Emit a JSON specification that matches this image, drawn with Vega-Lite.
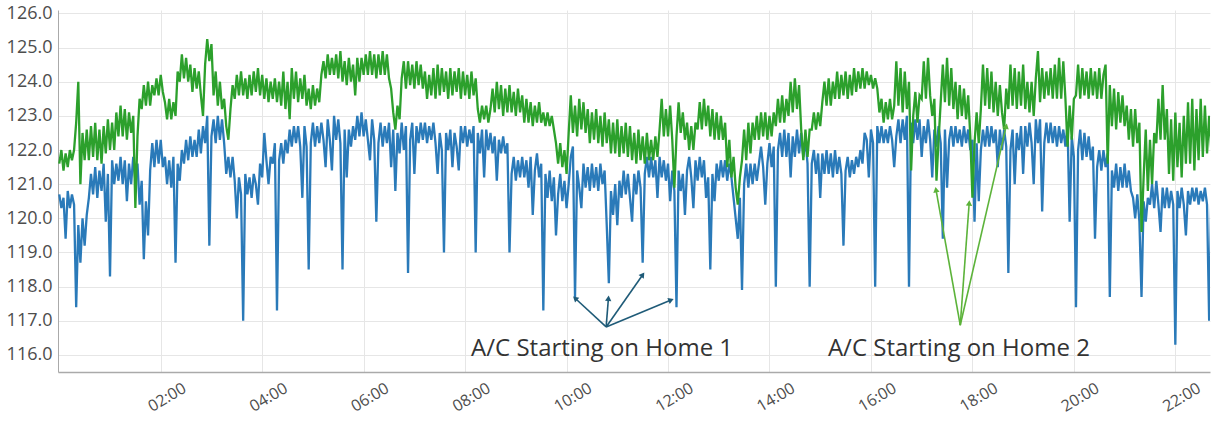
{
"$schema":"https://vega.github.io/schema/vega-lite/v6.json",
"width":1152,"height":362,
"autosize":{"type":"none"},
"padding":{"left":58,"top":10,"right":3,"bottom":49},
"background":"white",
"config":{"view":{"stroke":null},"font":"Open Sans"},
"datasets":{
"home1":[
{"m":0,"v":120.7},{"m":2.5,"v":120.3},{"m":5,"v":120.6},{"m":7.5,"v":119.4},{"m":10,"v":120.8},{"m":12.5,"v":120.3},{"m":15,"v":120.7},{"m":17.5,"v":120.4},{"m":20,"v":117.4},{"m":22.5,"v":119.8},{"m":25,"v":118.7},{"m":27.5,"v":120.0},{"m":30,"v":119.2},{"m":32.5,"v":120.1},{"m":35,"v":120.6},{"m":37.5,"v":121.3},{"m":40,"v":120.7},{"m":42.5,"v":121.5},{"m":45,"v":120.6},{"m":47.5,"v":121.4},{"m":50,"v":120.8},{"m":52.5,"v":121.6},{"m":55,"v":119.9},{"m":57.5,"v":121.3},{"m":60,"v":118.3},{"m":62.5,"v":121.7},{"m":65,"v":121.0},{"m":67.5,"v":121.6},{"m":70,"v":121.1},{"m":72.5,"v":121.8},{"m":75,"v":121.0},{"m":77.5,"v":121.7},{"m":80,"v":120.5},{"m":82.5,"v":121.6},{"m":85,"v":121.0},{"m":87.5,"v":121.8},{"m":90,"v":121.1},{"m":92.5,"v":121.6},{"m":95,"v":120.4},{"m":97.5,"v":121.1},{"m":100,"v":118.8},{"m":102.5,"v":120.5},{"m":105,"v":119.5},{"m":107.5,"v":121.4},{"m":110,"v":122.2},{"m":112.5,"v":121.5},{"m":115,"v":122.3},{"m":117.5,"v":121.6},{"m":120,"v":122.3},{"m":122.5,"v":121.5},{"m":125,"v":121.8},{"m":127.5,"v":121.0},{"m":130,"v":121.7},{"m":132.5,"v":120.9},{"m":135,"v":121.8},{"m":137.5,"v":118.7},{"m":140,"v":121.6},{"m":142.5,"v":121.1},{"m":145,"v":122.0},{"m":147.5,"v":121.6},{"m":150,"v":122.3},{"m":152.5,"v":121.7},{"m":155,"v":122.4},{"m":157.5,"v":121.8},{"m":160,"v":122.3},{"m":162.5,"v":121.8},{"m":165,"v":122.6},{"m":167.5,"v":121.9},{"m":170,"v":122.7},{"m":172.5,"v":122.2},{"m":175,"v":123.0},{"m":177.5,"v":119.2},{"m":180,"v":122.4},{"m":182.5,"v":122.9},{"m":185,"v":122.2},{"m":187.5,"v":123.0},{"m":190,"v":122.3},{"m":192.5,"v":122.9},{"m":195,"v":122.2},{"m":197.5,"v":121.3},{"m":200,"v":121.8},{"m":202.5,"v":121.2},{"m":205,"v":121.8},{"m":207.5,"v":121.1},{"m":210,"v":120.0},{"m":212.5,"v":121.2},{"m":215,"v":120.7},{"m":217.5,"v":117.0},{"m":220,"v":121.3},{"m":222.5,"v":120.7},{"m":225,"v":121.2},{"m":227.5,"v":120.6},{"m":230,"v":121.3},{"m":232.5,"v":121.0},{"m":235,"v":120.4},{"m":237.5,"v":121.6},{"m":240,"v":121.2},{"m":242.5,"v":122.5},{"m":245,"v":121.7},{"m":247.5,"v":121.0},{"m":250,"v":121.8},{"m":252.5,"v":121.6},{"m":255,"v":122.2},{"m":257.5,"v":117.3},{"m":260,"v":121.7},{"m":262.5,"v":122.2},{"m":265,"v":121.6},{"m":267.5,"v":122.3},{"m":270,"v":121.9},{"m":272.5,"v":122.6},{"m":275,"v":122.1},{"m":277.5,"v":122.7},{"m":280,"v":122.2},{"m":282.5,"v":122.7},{"m":285,"v":122.1},{"m":287.5,"v":120.6},{"m":290,"v":122.7},{"m":292.5,"v":122.1},{"m":295,"v":118.5},{"m":297.5,"v":122.2},{"m":300,"v":122.8},{"m":302.5,"v":122.1},{"m":305,"v":122.7},{"m":307.5,"v":122.2},{"m":310,"v":122.8},{"m":312.5,"v":122.3},{"m":315,"v":121.5},{"m":317.5,"v":122.9},{"m":320,"v":122.3},{"m":322.5,"v":121.4},{"m":325,"v":123.0},{"m":327.5,"v":122.3},{"m":330,"v":122.9},{"m":332.5,"v":122.2},{"m":335,"v":118.5},{"m":337.5,"v":122.6},{"m":340,"v":121.2},{"m":342.5,"v":122.6},{"m":345,"v":122.1},{"m":347.5,"v":122.7},{"m":350,"v":122.3},{"m":352.5,"v":123.0},{"m":355,"v":122.4},{"m":357.5,"v":123.1},{"m":360,"v":122.4},{"m":362.5,"v":122.9},{"m":365,"v":122.3},{"m":367.5,"v":121.7},{"m":370,"v":122.9},{"m":372.5,"v":122.3},{"m":375,"v":119.9},{"m":377.5,"v":122.2},{"m":380,"v":122.8},{"m":382.5,"v":122.1},{"m":385,"v":122.7},{"m":387.5,"v":122.2},{"m":390,"v":122.8},{"m":392.5,"v":121.5},{"m":395,"v":122.6},{"m":397.5,"v":120.8},{"m":400,"v":122.5},{"m":402.5,"v":121.9},{"m":405,"v":122.8},{"m":407.5,"v":122.0},{"m":410,"v":122.7},{"m":412.5,"v":118.4},{"m":415,"v":122.3},{"m":417.5,"v":122.8},{"m":420,"v":121.3},{"m":422.5,"v":122.7},{"m":425,"v":122.2},{"m":427.5,"v":122.8},{"m":430,"v":122.3},{"m":432.5,"v":122.8},{"m":435,"v":122.2},{"m":437.5,"v":122.7},{"m":440,"v":122.3},{"m":442.5,"v":122.8},{"m":445,"v":122.2},{"m":447.5,"v":121.3},{"m":450,"v":122.5},{"m":452.5,"v":122.0},{"m":455,"v":119.0},{"m":457.5,"v":122.5},{"m":460,"v":122.0},{"m":462.5,"v":122.6},{"m":465,"v":121.5},{"m":467.5,"v":122.5},{"m":470,"v":122.1},{"m":472.5,"v":121.4},{"m":475,"v":122.7},{"m":477.5,"v":122.2},{"m":480,"v":122.7},{"m":482.5,"v":122.1},{"m":485,"v":122.6},{"m":487.5,"v":122.2},{"m":490,"v":122.7},{"m":492.5,"v":119.0},{"m":495,"v":122.5},{"m":497.5,"v":121.9},{"m":500,"v":122.6},{"m":502.5,"v":121.2},{"m":505,"v":122.6},{"m":507.5,"v":122.0},{"m":510,"v":122.5},{"m":512.5,"v":121.9},{"m":515,"v":122.4},{"m":517.5,"v":121.1},{"m":520,"v":122.3},{"m":522.5,"v":121.9},{"m":525,"v":122.4},{"m":527.5,"v":121.9},{"m":530,"v":122.2},{"m":532.5,"v":119.0},{"m":535,"v":121.3},{"m":537.5,"v":121.8},{"m":540,"v":121.1},{"m":542.5,"v":121.7},{"m":545,"v":121.2},{"m":547.5,"v":121.8},{"m":550,"v":121.2},{"m":552.5,"v":121.7},{"m":555,"v":120.9},{"m":557.5,"v":121.8},{"m":560,"v":120.1},{"m":562.5,"v":121.4},{"m":565,"v":121.9},{"m":567.5,"v":121.2},{"m":570,"v":121.6},{"m":572.5,"v":117.3},{"m":575,"v":121.3},{"m":577.5,"v":120.6},{"m":580,"v":121.4},{"m":582.5,"v":120.5},{"m":585,"v":121.2},{"m":587.5,"v":119.5},{"m":590,"v":120.7},{"m":592.5,"v":121.3},{"m":595,"v":120.5},{"m":597.5,"v":121.1},{"m":600,"v":120.3},{"m":602.5,"v":121.0},{"m":605,"v":121.8},{"m":607.5,"v":122.1},{"m":610,"v":117.7},{"m":612.5,"v":121.4},{"m":615,"v":120.9},{"m":617.5,"v":120.3},{"m":620,"v":121.6},{"m":622.5,"v":120.9},{"m":625,"v":121.5},{"m":627.5,"v":120.8},{"m":630,"v":121.6},{"m":632.5,"v":120.9},{"m":635,"v":121.5},{"m":637.5,"v":120.8},{"m":640,"v":121.6},{"m":642.5,"v":121.0},{"m":645,"v":121.4},{"m":647.5,"v":119.8},{"m":650,"v":118.1},{"m":652.5,"v":120.8},{"m":655,"v":120.1},{"m":657.5,"v":121.0},{"m":660,"v":119.8},{"m":662.5,"v":121.1},{"m":665,"v":120.6},{"m":667.5,"v":121.4},{"m":670,"v":120.7},{"m":672.5,"v":121.3},{"m":675,"v":120.6},{"m":677.5,"v":119.9},{"m":680,"v":121.3},{"m":682.5,"v":120.7},{"m":685,"v":121.4},{"m":687.5,"v":120.9},{"m":690,"v":118.7},{"m":692.5,"v":121.3},{"m":695,"v":121.8},{"m":697.5,"v":121.2},{"m":700,"v":121.8},{"m":702.5,"v":121.2},{"m":705,"v":121.7},{"m":707.5,"v":120.6},{"m":710,"v":121.8},{"m":712.5,"v":121.2},{"m":715,"v":121.7},{"m":717.5,"v":121.1},{"m":720,"v":121.6},{"m":722.5,"v":120.5},{"m":725,"v":121.4},{"m":727.5,"v":120.8},{"m":730,"v":117.4},{"m":732.5,"v":121.4},{"m":735,"v":120.8},{"m":737.5,"v":121.3},{"m":740,"v":120.1},{"m":742.5,"v":121.4},{"m":745,"v":121.8},{"m":747.5,"v":121.2},{"m":750,"v":120.3},{"m":752.5,"v":121.7},{"m":755,"v":121.1},{"m":757.5,"v":121.8},{"m":760,"v":121.2},{"m":762.5,"v":121.7},{"m":765,"v":120.6},{"m":767.5,"v":121.2},{"m":770,"v":118.5},{"m":772.5,"v":121.3},{"m":775,"v":120.5},{"m":777.5,"v":121.6},{"m":780,"v":121.1},{"m":782.5,"v":121.7},{"m":785,"v":121.2},{"m":787.5,"v":121.7},{"m":790,"v":121.1},{"m":792.5,"v":121.6},{"m":795,"v":121.2},{"m":797.5,"v":120.6},{"m":800,"v":120.0},{"m":802.5,"v":119.4},{"m":805,"v":120.6},{"m":807.5,"v":117.9},{"m":810,"v":121.0},{"m":812.5,"v":121.6},{"m":815,"v":120.9},{"m":817.5,"v":121.6},{"m":820,"v":121.0},{"m":822.5,"v":121.6},{"m":825,"v":121.1},{"m":827.5,"v":121.6},{"m":830,"v":122.1},{"m":832.5,"v":121.5},{"m":835,"v":120.4},{"m":837.5,"v":121.6},{"m":840,"v":122.2},{"m":842.5,"v":121.5},{"m":845,"v":122.1},{"m":847.5,"v":118.0},{"m":850,"v":122.0},{"m":852.5,"v":122.5},{"m":855,"v":121.8},{"m":857.5,"v":122.6},{"m":860,"v":121.8},{"m":862.5,"v":122.5},{"m":865,"v":121.2},{"m":867.5,"v":122.4},{"m":870,"v":121.8},{"m":872.5,"v":122.6},{"m":875,"v":121.9},{"m":877.5,"v":122.5},{"m":880,"v":121.8},{"m":882.5,"v":122.3},{"m":885,"v":121.6},{"m":887.5,"v":118.0},{"m":890,"v":121.6},{"m":892.5,"v":122.0},{"m":895,"v":121.3},{"m":897.5,"v":121.9},{"m":900,"v":120.6},{"m":902.5,"v":121.9},{"m":905,"v":121.3},{"m":907.5,"v":122.0},{"m":910,"v":121.3},{"m":912.5,"v":121.9},{"m":915,"v":121.2},{"m":917.5,"v":122.0},{"m":920,"v":121.3},{"m":922.5,"v":121.8},{"m":925,"v":121.3},{"m":927.5,"v":119.2},{"m":930,"v":121.4},{"m":932.5,"v":121.8},{"m":935,"v":121.2},{"m":937.5,"v":121.7},{"m":940,"v":121.3},{"m":942.5,"v":121.8},{"m":945,"v":121.5},{"m":947.5,"v":122.0},{"m":950,"v":121.6},{"m":952.5,"v":122.5},{"m":955,"v":122.3},{"m":957.5,"v":121.2},{"m":960,"v":122.6},{"m":962.5,"v":122.2},{"m":965,"v":118.0},{"m":967.5,"v":122.7},{"m":970,"v":122.2},{"m":972.5,"v":122.7},{"m":975,"v":122.2},{"m":977.5,"v":122.6},{"m":980,"v":122.2},{"m":982.5,"v":122.7},{"m":985,"v":122.3},{"m":987.5,"v":121.5},{"m":990,"v":122.4},{"m":992.5,"v":122.9},{"m":995,"v":122.2},{"m":997.5,"v":122.9},{"m":1000,"v":122.3},{"m":1002.5,"v":123.0},{"m":1005,"v":118.0},{"m":1007.5,"v":122.8},{"m":1010,"v":122.2},{"m":1012.5,"v":122.9},{"m":1015,"v":122.3},{"m":1017.5,"v":122.9},{"m":1020,"v":121.8},{"m":1022.5,"v":122.7},{"m":1025,"v":122.2},{"m":1027.5,"v":122.9},{"m":1030,"v":122.3},{"m":1032.5,"v":121.2},{"m":1035,"v":122.6},{"m":1037.5,"v":122.1},{"m":1040,"v":122.7},{"m":1042.5,"v":122.2},{"m":1045,"v":119.4},{"m":1047.5,"v":122.6},{"m":1050,"v":120.9},{"m":1052.5,"v":122.3},{"m":1055,"v":122.7},{"m":1057.5,"v":122.1},{"m":1060,"v":122.7},{"m":1062.5,"v":122.2},{"m":1065,"v":122.6},{"m":1067.5,"v":122.1},{"m":1070,"v":122.7},{"m":1072.5,"v":122.2},{"m":1075,"v":122.6},{"m":1077.5,"v":122.0},{"m":1080,"v":122.3},{"m":1082.5,"v":119.9},{"m":1085,"v":122.2},{"m":1087.5,"v":120.5},{"m":1090,"v":122.0},{"m":1092.5,"v":122.6},{"m":1095,"v":122.1},{"m":1097.5,"v":122.7},{"m":1100,"v":122.1},{"m":1102.5,"v":122.7},{"m":1105,"v":122.2},{"m":1107.5,"v":122.6},{"m":1110,"v":121.5},{"m":1112.5,"v":122.6},{"m":1115,"v":122.0},{"m":1117.5,"v":122.6},{"m":1120,"v":122.1},{"m":1122.5,"v":118.4},{"m":1125,"v":122.0},{"m":1127.5,"v":122.6},{"m":1130,"v":121.0},{"m":1132.5,"v":122.5},{"m":1135,"v":122.0},{"m":1137.5,"v":122.7},{"m":1140,"v":121.3},{"m":1142.5,"v":122.7},{"m":1145,"v":122.1},{"m":1147.5,"v":122.8},{"m":1150,"v":122.2},{"m":1152.5,"v":121.0},{"m":1155,"v":122.9},{"m":1157.5,"v":122.2},{"m":1160,"v":122.9},{"m":1162.5,"v":120.2},{"m":1165,"v":122.2},{"m":1167.5,"v":122.8},{"m":1170,"v":122.2},{"m":1172.5,"v":122.8},{"m":1175,"v":122.2},{"m":1177.5,"v":122.7},{"m":1180,"v":122.1},{"m":1182.5,"v":122.7},{"m":1185,"v":122.2},{"m":1187.5,"v":122.6},{"m":1190,"v":122.1},{"m":1192.5,"v":122.7},{"m":1195,"v":119.9},{"m":1197.5,"v":122.4},{"m":1200,"v":121.8},{"m":1202.5,"v":117.4},{"m":1205,"v":122.0},{"m":1207.5,"v":122.6},{"m":1210,"v":121.7},{"m":1212.5,"v":122.5},{"m":1215,"v":121.8},{"m":1217.5,"v":122.4},{"m":1220,"v":121.7},{"m":1222.5,"v":122.1},{"m":1225,"v":119.4},{"m":1227.5,"v":121.5},{"m":1230,"v":122.0},{"m":1232.5,"v":121.4},{"m":1235,"v":122.0},{"m":1237.5,"v":121.5},{"m":1240,"v":121.9},{"m":1242.5,"v":117.7},{"m":1245,"v":121.4},{"m":1247.5,"v":120.9},{"m":1250,"v":121.6},{"m":1252.5,"v":120.8},{"m":1255,"v":121.5},{"m":1257.5,"v":120.9},{"m":1260,"v":121.6},{"m":1262.5,"v":120.9},{"m":1265,"v":121.4},{"m":1267.5,"v":120.8},{"m":1270,"v":120.6},{"m":1272.5,"v":120.0},{"m":1275,"v":120.7},{"m":1277.5,"v":119.9},{"m":1280,"v":117.7},{"m":1282.5,"v":120.5},{"m":1285,"v":119.9},{"m":1287.5,"v":120.6},{"m":1290,"v":120.4},{"m":1292.5,"v":121.0},{"m":1295,"v":120.3},{"m":1297.5,"v":121.1},{"m":1300,"v":120.4},{"m":1302.5,"v":119.6},{"m":1305,"v":120.9},{"m":1307.5,"v":120.3},{"m":1310,"v":120.9},{"m":1312.5,"v":120.3},{"m":1315,"v":120.8},{"m":1317.5,"v":120.4},{"m":1320,"v":116.3},{"m":1322.5,"v":120.8},{"m":1325,"v":120.3},{"m":1327.5,"v":120.9},{"m":1330,"v":120.4},{"m":1332.5,"v":119.5},{"m":1335,"v":120.8},{"m":1337.5,"v":120.4},{"m":1340,"v":120.9},{"m":1342.5,"v":120.5},{"m":1345,"v":120.9},{"m":1347.5,"v":120.4},{"m":1350,"v":120.8},{"m":1352.5,"v":120.5},{"m":1355,"v":120.9},{"m":1357.5,"v":120.4},{"m":1360,"v":117.0},{"m":1362.5,"v":120.6}
],
"home2":[
{"m":0,"v":121.6},{"m":2.5,"v":122.0},{"m":5,"v":121.4},{"m":7.5,"v":121.9},{"m":10,"v":121.5},{"m":12.5,"v":122.0},{"m":15,"v":121.7},{"m":17.5,"v":122.0},{"m":20,"v":122.8},{"m":22.5,"v":124.0},{"m":25,"v":121.0},{"m":27.5,"v":122.5},{"m":30,"v":121.7},{"m":32.5,"v":122.6},{"m":35,"v":121.7},{"m":37.5,"v":122.7},{"m":40,"v":121.8},{"m":42.5,"v":122.8},{"m":45,"v":121.7},{"m":47.5,"v":122.6},{"m":50,"v":121.6},{"m":52.5,"v":122.7},{"m":55,"v":121.9},{"m":57.5,"v":122.9},{"m":60,"v":122.0},{"m":62.5,"v":122.8},{"m":65,"v":122.0},{"m":67.5,"v":123.1},{"m":70,"v":122.4},{"m":72.5,"v":123.3},{"m":75,"v":122.4},{"m":77.5,"v":123.2},{"m":80,"v":122.3},{"m":82.5,"v":123.1},{"m":85,"v":122.5},{"m":87.5,"v":123.0},{"m":90,"v":120.3},{"m":92.5,"v":122.4},{"m":95,"v":123.5},{"m":97.5,"v":123.2},{"m":100,"v":123.9},{"m":102.5,"v":123.3},{"m":105,"v":124.0},{"m":107.5,"v":123.3},{"m":110,"v":123.9},{"m":112.5,"v":123.6},{"m":115,"v":124.1},{"m":117.5,"v":123.6},{"m":120,"v":124.2},{"m":122.5,"v":123.7},{"m":125,"v":123.4},{"m":127.5,"v":122.9},{"m":130,"v":123.5},{"m":132.5,"v":122.9},{"m":135,"v":123.4},{"m":137.5,"v":123.0},{"m":140,"v":124.3},{"m":142.5,"v":124.0},{"m":145,"v":124.8},{"m":147.5,"v":124.1},{"m":150,"v":124.7},{"m":152.5,"v":124.0},{"m":155,"v":124.5},{"m":157.5,"v":123.7},{"m":160,"v":124.4},{"m":162.5,"v":123.8},{"m":165,"v":124.3},{"m":167.5,"v":123.6},{"m":170,"v":123.0},{"m":172.5,"v":124.5},{"m":175,"v":125.25},{"m":177.5,"v":124.6},{"m":180,"v":125.1},{"m":182.5,"v":123.6},{"m":185,"v":124.3},{"m":187.5,"v":123.3},{"m":190,"v":124.0},{"m":192.5,"v":123.2},{"m":195,"v":123.5},{"m":197.5,"v":122.7},{"m":200,"v":122.3},{"m":202.5,"v":123.2},{"m":205,"v":123.9},{"m":207.5,"v":123.5},{"m":210,"v":124.2},{"m":212.5,"v":123.6},{"m":215,"v":124.3},{"m":217.5,"v":123.6},{"m":220,"v":124.1},{"m":222.5,"v":123.5},{"m":225,"v":124.2},{"m":227.5,"v":123.6},{"m":230,"v":124.3},{"m":232.5,"v":123.7},{"m":235,"v":124.4},{"m":237.5,"v":123.6},{"m":240,"v":124.2},{"m":242.5,"v":123.5},{"m":245,"v":124.1},{"m":247.5,"v":123.4},{"m":250,"v":124.0},{"m":252.5,"v":123.5},{"m":255,"v":124.1},{"m":257.5,"v":123.4},{"m":260,"v":124.0},{"m":262.5,"v":123.3},{"m":265,"v":124.3},{"m":267.5,"v":123.2},{"m":270,"v":124.0},{"m":272.5,"v":122.9},{"m":275,"v":124.4},{"m":277.5,"v":123.5},{"m":280,"v":124.3},{"m":282.5,"v":123.4},{"m":285,"v":124.1},{"m":287.5,"v":123.5},{"m":290,"v":124.2},{"m":292.5,"v":123.3},{"m":295,"v":123.8},{"m":297.5,"v":123.2},{"m":300,"v":123.9},{"m":302.5,"v":123.3},{"m":305,"v":123.8},{"m":307.5,"v":123.4},{"m":310,"v":124.2},{"m":312.5,"v":124.6},{"m":315,"v":124.1},{"m":317.5,"v":124.8},{"m":320,"v":124.2},{"m":322.5,"v":124.7},{"m":325,"v":124.2},{"m":327.5,"v":124.8},{"m":330,"v":124.1},{"m":332.5,"v":124.9},{"m":335,"v":124.0},{"m":337.5,"v":124.6},{"m":340,"v":123.9},{"m":342.5,"v":124.7},{"m":345,"v":124.0},{"m":347.5,"v":124.5},{"m":350,"v":123.6},{"m":352.5,"v":124.7},{"m":355,"v":124.0},{"m":357.5,"v":124.7},{"m":360,"v":124.2},{"m":362.5,"v":124.8},{"m":365,"v":124.2},{"m":367.5,"v":124.9},{"m":370,"v":124.2},{"m":372.5,"v":124.8},{"m":375,"v":124.1},{"m":377.5,"v":124.8},{"m":380,"v":124.2},{"m":382.5,"v":124.9},{"m":385,"v":124.2},{"m":387.5,"v":124.8},{"m":390,"v":124.1},{"m":392.5,"v":123.8},{"m":395,"v":123.1},{"m":397.5,"v":122.6},{"m":400,"v":123.3},{"m":402.5,"v":122.9},{"m":405,"v":124.1},{"m":407.5,"v":124.6},{"m":410,"v":123.8},{"m":412.5,"v":124.6},{"m":415,"v":123.9},{"m":417.5,"v":124.5},{"m":420,"v":123.8},{"m":422.5,"v":124.6},{"m":425,"v":123.9},{"m":427.5,"v":124.5},{"m":430,"v":123.8},{"m":432.5,"v":124.3},{"m":435,"v":123.5},{"m":437.5,"v":124.2},{"m":440,"v":123.6},{"m":442.5,"v":124.4},{"m":445,"v":123.5},{"m":447.5,"v":124.5},{"m":450,"v":123.6},{"m":452.5,"v":124.4},{"m":455,"v":123.7},{"m":457.5,"v":124.3},{"m":460,"v":123.5},{"m":462.5,"v":124.4},{"m":465,"v":123.6},{"m":467.5,"v":124.3},{"m":470,"v":123.7},{"m":472.5,"v":124.4},{"m":475,"v":123.5},{"m":477.5,"v":124.3},{"m":480,"v":123.6},{"m":482.5,"v":124.2},{"m":485,"v":123.5},{"m":487.5,"v":124.3},{"m":490,"v":123.6},{"m":492.5,"v":124.1},{"m":495,"v":123.2},{"m":497.5,"v":122.8},{"m":500,"v":123.3},{"m":502.5,"v":122.9},{"m":505,"v":123.3},{"m":507.5,"v":122.8},{"m":510,"v":123.2},{"m":512.5,"v":123.8},{"m":515,"v":123.1},{"m":517.5,"v":124.0},{"m":520,"v":123.2},{"m":522.5,"v":123.9},{"m":525,"v":123.0},{"m":527.5,"v":123.8},{"m":530,"v":123.1},{"m":532.5,"v":123.9},{"m":535,"v":123.1},{"m":537.5,"v":123.7},{"m":540,"v":123.0},{"m":542.5,"v":123.8},{"m":545,"v":123.1},{"m":547.5,"v":123.6},{"m":550,"v":122.8},{"m":552.5,"v":123.5},{"m":555,"v":122.8},{"m":557.5,"v":123.4},{"m":560,"v":122.7},{"m":562.5,"v":123.3},{"m":565,"v":122.8},{"m":567.5,"v":123.4},{"m":570,"v":122.8},{"m":572.5,"v":123.1},{"m":575,"v":122.7},{"m":577.5,"v":123.1},{"m":580,"v":122.7},{"m":582.5,"v":123.0},{"m":585,"v":122.6},{"m":587.5,"v":122.2},{"m":590,"v":121.6},{"m":592.5,"v":122.2},{"m":595,"v":121.5},{"m":597.5,"v":122.0},{"m":600,"v":121.3},{"m":602.5,"v":122.5},{"m":605,"v":123.6},{"m":607.5,"v":122.5},{"m":610,"v":123.3},{"m":612.5,"v":122.4},{"m":615,"v":123.5},{"m":617.5,"v":122.6},{"m":620,"v":123.4},{"m":622.5,"v":122.5},{"m":625,"v":123.2},{"m":627.5,"v":122.2},{"m":630,"v":123.1},{"m":632.5,"v":122.3},{"m":635,"v":123.2},{"m":637.5,"v":122.2},{"m":640,"v":123.0},{"m":642.5,"v":122.1},{"m":645,"v":123.1},{"m":647.5,"v":122.2},{"m":650,"v":122.9},{"m":652.5,"v":121.9},{"m":655,"v":122.8},{"m":657.5,"v":121.9},{"m":660,"v":122.9},{"m":662.5,"v":121.8},{"m":665,"v":122.7},{"m":667.5,"v":121.9},{"m":670,"v":122.8},{"m":672.5,"v":121.8},{"m":675,"v":122.7},{"m":677.5,"v":121.7},{"m":680,"v":122.5},{"m":682.5,"v":121.6},{"m":685,"v":122.6},{"m":687.5,"v":121.7},{"m":690,"v":122.4},{"m":692.5,"v":121.6},{"m":695,"v":122.5},{"m":697.5,"v":121.7},{"m":700,"v":122.3},{"m":702.5,"v":121.7},{"m":705,"v":122.4},{"m":707.5,"v":121.8},{"m":710,"v":122.6},{"m":712.5,"v":123.5},{"m":715,"v":122.4},{"m":717.5,"v":123.2},{"m":720,"v":122.4},{"m":722.5,"v":123.3},{"m":725,"v":122.3},{"m":727.5,"v":120.9},{"m":730,"v":122.4},{"m":732.5,"v":123.4},{"m":735,"v":122.5},{"m":737.5,"v":123.1},{"m":740,"v":122.3},{"m":742.5,"v":122.8},{"m":745,"v":122.0},{"m":747.5,"v":122.7},{"m":750,"v":122.0},{"m":752.5,"v":122.8},{"m":755,"v":122.6},{"m":757.5,"v":123.4},{"m":760,"v":122.6},{"m":762.5,"v":123.5},{"m":765,"v":122.7},{"m":767.5,"v":123.3},{"m":770,"v":122.4},{"m":772.5,"v":123.2},{"m":775,"v":122.3},{"m":777.5,"v":123.1},{"m":780,"v":122.3},{"m":782.5,"v":123.0},{"m":785,"v":122.3},{"m":787.5,"v":122.8},{"m":790,"v":121.5},{"m":792.5,"v":122.3},{"m":795,"v":121.2},{"m":797.5,"v":121.8},{"m":800,"v":120.9},{"m":802.5,"v":120.4},{"m":805,"v":121.2},{"m":807.5,"v":121.7},{"m":810,"v":122.6},{"m":812.5,"v":121.7},{"m":815,"v":122.8},{"m":817.5,"v":121.9},{"m":820,"v":122.8},{"m":822.5,"v":122.3},{"m":825,"v":123.0},{"m":827.5,"v":122.3},{"m":830,"v":123.1},{"m":832.5,"v":122.4},{"m":835,"v":123.1},{"m":837.5,"v":122.3},{"m":840,"v":123.0},{"m":842.5,"v":122.4},{"m":845,"v":123.1},{"m":847.5,"v":122.7},{"m":850,"v":123.5},{"m":852.5,"v":122.8},{"m":855,"v":123.6},{"m":857.5,"v":122.8},{"m":860,"v":123.5},{"m":862.5,"v":123.0},{"m":865,"v":124.0},{"m":867.5,"v":123.1},{"m":870,"v":124.1},{"m":872.5,"v":123.2},{"m":875,"v":123.9},{"m":877.5,"v":122.6},{"m":880,"v":121.7},{"m":882.5,"v":122.6},{"m":885,"v":121.8},{"m":887.5,"v":122.6},{"m":890,"v":122.6},{"m":892.5,"v":123.1},{"m":895,"v":122.6},{"m":897.5,"v":123.1},{"m":900,"v":122.7},{"m":902.5,"v":123.4},{"m":905,"v":124.0},{"m":907.5,"v":123.3},{"m":910,"v":124.1},{"m":912.5,"v":123.3},{"m":915,"v":124.0},{"m":917.5,"v":123.5},{"m":920,"v":124.3},{"m":922.5,"v":123.5},{"m":925,"v":124.2},{"m":927.5,"v":123.6},{"m":930,"v":124.3},{"m":932.5,"v":123.5},{"m":935,"v":124.2},{"m":937.5,"v":123.6},{"m":940,"v":124.4},{"m":942.5,"v":123.7},{"m":945,"v":124.3},{"m":947.5,"v":123.8},{"m":950,"v":124.4},{"m":952.5,"v":123.8},{"m":955,"v":124.3},{"m":957.5,"v":123.9},{"m":960,"v":124.2},{"m":962.5,"v":123.8},{"m":965,"v":124.1},{"m":967.5,"v":123.8},{"m":970,"v":123.1},{"m":972.5,"v":123.5},{"m":975,"v":122.8},{"m":977.5,"v":123.4},{"m":980,"v":122.9},{"m":982.5,"v":123.5},{"m":985,"v":122.9},{"m":987.5,"v":123.3},{"m":990,"v":124.6},{"m":992.5,"v":123.3},{"m":995,"v":124.4},{"m":997.5,"v":123.1},{"m":1000,"v":124.3},{"m":1002.5,"v":123.2},{"m":1005,"v":124.0},{"m":1007.5,"v":121.4},{"m":1010,"v":123.0},{"m":1012.5,"v":123.7},{"m":1015,"v":122.8},{"m":1017.5,"v":123.6},{"m":1020,"v":123.5},{"m":1022.5,"v":124.6},{"m":1025,"v":123.5},{"m":1027.5,"v":124.7},{"m":1030,"v":123.6},{"m":1032.5,"v":123.0},{"m":1035,"v":123.5},{"m":1037.5,"v":121.1},{"m":1040,"v":122.3},{"m":1042.5,"v":123.4},{"m":1045,"v":124.5},{"m":1047.5,"v":123.4},{"m":1050,"v":124.7},{"m":1052.5,"v":123.3},{"m":1055,"v":124.4},{"m":1057.5,"v":123.2},{"m":1060,"v":124.0},{"m":1062.5,"v":122.9},{"m":1065,"v":123.9},{"m":1067.5,"v":123.0},{"m":1070,"v":123.8},{"m":1072.5,"v":122.9},{"m":1075,"v":123.6},{"m":1077.5,"v":122.4},{"m":1080,"v":120.6},{"m":1082.5,"v":122.2},{"m":1085,"v":123.1},{"m":1087.5,"v":122.2},{"m":1090,"v":123.2},{"m":1092.5,"v":124.5},{"m":1095,"v":123.3},{"m":1097.5,"v":124.4},{"m":1100,"v":123.2},{"m":1102.5,"v":124.3},{"m":1105,"v":123.1},{"m":1107.5,"v":124.0},{"m":1110,"v":123.0},{"m":1112.5,"v":123.9},{"m":1115,"v":123.1},{"m":1117.5,"v":122.6},{"m":1120,"v":123.8},{"m":1122.5,"v":123.2},{"m":1125,"v":124.5},{"m":1127.5,"v":123.3},{"m":1130,"v":124.4},{"m":1132.5,"v":123.2},{"m":1135,"v":124.3},{"m":1137.5,"v":123.3},{"m":1140,"v":124.5},{"m":1142.5,"v":123.2},{"m":1145,"v":124.0},{"m":1147.5,"v":123.1},{"m":1150,"v":124.0},{"m":1152.5,"v":123.0},{"m":1155,"v":124.1},{"m":1157.5,"v":124.9},{"m":1160,"v":123.4},{"m":1162.5,"v":124.4},{"m":1165,"v":123.5},{"m":1167.5,"v":124.3},{"m":1170,"v":123.6},{"m":1172.5,"v":124.4},{"m":1175,"v":123.5},{"m":1177.5,"v":124.5},{"m":1180,"v":123.5},{"m":1182.5,"v":124.7},{"m":1185,"v":123.5},{"m":1187.5,"v":124.6},{"m":1190,"v":123.5},{"m":1192.5,"v":122.1},{"m":1195,"v":123.3},{"m":1197.5,"v":122.3},{"m":1200,"v":123.5},{"m":1202.5,"v":123.6},{"m":1205,"v":124.5},{"m":1207.5,"v":123.5},{"m":1210,"v":124.4},{"m":1212.5,"v":123.6},{"m":1215,"v":124.3},{"m":1217.5,"v":123.5},{"m":1220,"v":124.4},{"m":1222.5,"v":123.6},{"m":1225,"v":124.3},{"m":1227.5,"v":123.5},{"m":1230,"v":124.4},{"m":1232.5,"v":123.5},{"m":1235,"v":124.2},{"m":1237.5,"v":124.5},{"m":1240,"v":121.6},{"m":1242.5,"v":123.9},{"m":1245,"v":122.7},{"m":1247.5,"v":123.8},{"m":1250,"v":122.6},{"m":1252.5,"v":123.7},{"m":1255,"v":122.8},{"m":1257.5,"v":123.6},{"m":1260,"v":122.7},{"m":1262.5,"v":123.3},{"m":1265,"v":122.3},{"m":1267.5,"v":123.2},{"m":1270,"v":122.1},{"m":1272.5,"v":123.2},{"m":1275,"v":122.2},{"m":1277.5,"v":122.8},{"m":1280,"v":119.6},{"m":1282.5,"v":121.2},{"m":1285,"v":122.6},{"m":1287.5,"v":120.8},{"m":1290,"v":122.3},{"m":1292.5,"v":121.0},{"m":1295,"v":122.5},{"m":1297.5,"v":122.2},{"m":1300,"v":123.5},{"m":1302.5,"v":122.3},{"m":1305,"v":123.9},{"m":1307.5,"v":122.3},{"m":1310,"v":123.2},{"m":1312.5,"v":121.3},{"m":1315,"v":122.9},{"m":1317.5,"v":121.1},{"m":1320,"v":123.1},{"m":1322.5,"v":121.5},{"m":1325,"v":122.8},{"m":1327.5,"v":121.2},{"m":1330,"v":123.0},{"m":1332.5,"v":121.6},{"m":1335,"v":123.4},{"m":1337.5,"v":121.6},{"m":1340,"v":123.5},{"m":1342.5,"v":121.4},{"m":1345,"v":123.2},{"m":1347.5,"v":121.7},{"m":1350,"v":123.5},{"m":1352.5,"v":121.8},{"m":1355,"v":123.3},{"m":1357.5,"v":121.9},{"m":1360,"v":123.0},{"m":1362.5,"v":122.0}
],
"arrows":[
{"g":"h1","m":646.8,"v":116.82,"m2":610.1,"v2":117.66},
{"g":"h1","m":646.8,"v":116.82,"m2":649.5,"v2":117.66},
{"g":"h1","m":646.8,"v":116.82,"m2":690.1,"v2":118.35},
{"g":"h1","m":646.8,"v":116.82,"m2":723.6,"v2":117.61},
{"g":"h2","m":1065.6,"v":116.87,"m2":1036.9,"v2":120.84},
{"g":"h2","m":1065.6,"v":116.87,"m2":1076.2,"v2":120.45},
{"g":"h2","m":1065.6,"v":116.87,"m2":1120,"v2":122.7}
],
"heads":[
{"id":"a1","m":610.1,"v":117.66},
{"id":"a2","m":649.5,"v":117.66},
{"id":"a3","m":690.1,"v":118.35},
{"id":"a4","m":723.6,"v":117.61},
{"id":"b1","m":1036.9,"v":120.84},
{"id":"b2","m":1076.2,"v":120.45},
{"id":"b3","m":1120,"v":122.7}
],
"labels":[
{"m":642,"v":116.18,"t":"A/C Starting on Home 1"},
{"m":1064,"v":116.18,"t":"A/C Starting on Home 2"}
]
},
"encoding":{
"x":{"field":"m","type":"quantitative","scale":{"domain":[-1.5,1361],"nice":false,"zero":false},
"axis":{"title":null,"values":[120,240,360,480,600,720,840,960,1080,1200,1320],"labelExpr":"(datum.value<600?'0':'')+(datum.value/60)+':00'","labelAngle":-31,"labelAlign":"center","labelBaseline":"middle","labelPadding":25,"labelOffset":6,"labelFontSize":16,"labelColor":"#4d4d4d","grid":true,"gridColor":"#e6e6e6","ticks":false,"domainColor":"#aaaaaa","domainWidth":1.5}},
"y":{"field":"v","type":"quantitative","scale":{"domain":[115.5,126.1],"nice":false,"zero":false},
"axis":{"title":null,"values":[116,117,118,119,120,121,122,123,124,125,126],"format":".1f","labelFontSize":18,"labelColor":"#4d4d4d","grid":true,"gridColor":"#e6e6e6","ticks":false,"labelPadding":6,"domainColor":"#aaaaaa"}}
},
"layer":[
{"data":{"name":"home1"},"mark":{"type":"line","color":"#2a7ab9","strokeWidth":2.3,"clip":true}},
{"data":{"name":"home2"},"mark":{"type":"line","color":"#2ca02c","strokeWidth":2.3,"clip":true}},
{"data":{"name":"arrows"},"transform":[{"filter":"datum.g=='h1'"}],"mark":{"type":"rule","color":"#1f5b78","strokeWidth":1.6},"encoding":{"x2":{"field":"m2"},"y2":{"field":"v2"}}},
{"data":{"name":"arrows"},"transform":[{"filter":"datum.g=='h2'"}],"mark":{"type":"rule","color":"#5cb33a","strokeWidth":1.6},"encoding":{"x2":{"field":"m2"},"y2":{"field":"v2"}}},
{"data":{"name":"heads"},"transform":[{"filter":"datum.id=='a1'"}],"mark":{"type":"point","shape":"triangle-up","filled":true,"opacity":1,"size":40,"color":"#1f5b78","angle":312}},
{"data":{"name":"heads"},"transform":[{"filter":"datum.id=='a2'"}],"mark":{"type":"point","shape":"triangle-up","filled":true,"opacity":1,"size":40,"color":"#1f5b78","angle":5}},
{"data":{"name":"heads"},"transform":[{"filter":"datum.id=='a3'"}],"mark":{"type":"point","shape":"triangle-up","filled":true,"opacity":1,"size":40,"color":"#1f5b78","angle":35}},
{"data":{"name":"heads"},"transform":[{"filter":"datum.id=='a4'"}],"mark":{"type":"point","shape":"triangle-up","filled":true,"opacity":1,"size":40,"color":"#1f5b78","angle":68}},
{"data":{"name":"heads"},"transform":[{"filter":"datum.id=='b1'"}],"mark":{"type":"point","shape":"triangle-up","filled":true,"opacity":1,"size":40,"color":"#5cb33a","angle":350}},
{"data":{"name":"heads"},"transform":[{"filter":"datum.id=='b2'"}],"mark":{"type":"point","shape":"triangle-up","filled":true,"opacity":1,"size":40,"color":"#5cb33a","angle":4}},
{"data":{"name":"heads"},"transform":[{"filter":"datum.id=='b3'"}],"mark":{"type":"point","shape":"triangle-up","filled":true,"opacity":1,"size":40,"color":"#5cb33a","angle":13}},
{"data":{"name":"labels"},"mark":{"type":"text","fontSize":24,"color":"#333333","align":"center","baseline":"middle","font":"Open Sans"},"encoding":{"text":{"field":"t"}}}
]
}
